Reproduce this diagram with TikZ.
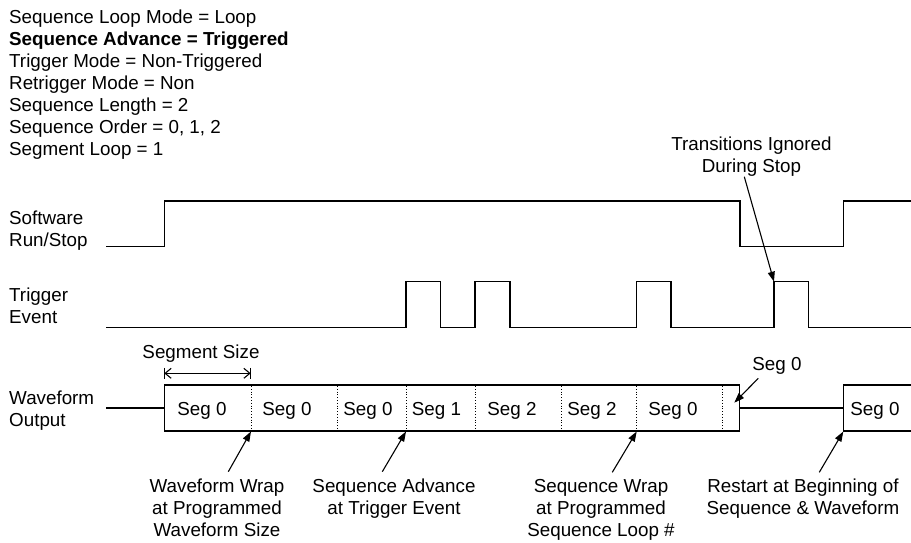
\documentclass[tikz,border=0pt]{standalone}
\usepackage{fontspec}
\setmainfont{Liberation Sans}
\usetikzlibrary{arrows.meta}
\begin{document}
\begin{tikzpicture}[x=1pt,y=-1pt,
  every node/.style={inner sep=0pt, font=\fontsize{18.8}{22}\selectfont},
  txt/.style={anchor=base west},
  ctr/.style={anchor=base},
  signal/.style={line width=1.3pt, line join=miter},
  divider/.style={dotted, line width=0.8pt},
  pointer/.style={line width=1.1pt, -{Triangle[length=10pt,width=7pt]}},
  span/.style={line width=1.1pt, {Straight Barb[length=6pt,width=10pt,line width=1.1pt]}-{Straight Barb[length=6pt,width=10pt,line width=1.1pt]}},
  tick/.style={line width=1.1pt},
]
\useasboundingbox (0,0) rectangle (911,542);

% ---- settings block ----
\node[txt] (cfg1) at (9,23)  {Sequence Loop Mode = Loop};
\node[txt,font=\fontsize{18.8}{22}\selectfont\bfseries] (cfg2) at (9,45) {Sequence Advance = Triggered};
\node[txt] (cfg3) at (9,67)  {Trigger Mode = Non-Triggered};
\node[txt] (cfg4) at (9,89)  {Retrigger Mode = Non};
\node[txt] (cfg5) at (9,111) {Sequence Length = 2};
\node[txt] (cfg6) at (9,133) {Sequence Order = 0, 1, 2};
\node[txt] (cfg7) at (9,155) {Segment Loop = 1};

% ---- row labels ----
\node[txt] (swA) at (9,224.5) {Software};
\node[txt] (swB) at (9,246)   {Run/Stop};
\node[txt] (trA) at (9,301.5) {Trigger};
\node[txt] (trB) at (9,323)   {Event};
\node[txt] (wfA) at (9,404.5) {Waveform};
\node[txt] (wfB) at (9,426)   {Output};

% ---- software run/stop ----
\draw[signal] (106,246.7) -- (164.3,246.7) -- (164.3,201) -- (740,201)
  -- (740,246.7) -- (843.3,246.7) -- (843.3,201) -- (911,201);

% ---- trigger events ----
\draw[signal] (106,327.3)
  -- (406,327.3) -- (406,281.7) -- (440.5,281.7) -- (440.5,327.3)
  -- (475,327.3) -- (475,281.7) -- (510,281.7) -- (510,327.3)
  -- (636.7,327.3) -- (636.7,281.7) -- (671,281.7) -- (671,327.3)
  -- (774,327.3) -- (774,281.7) -- (808.5,281.7) -- (808.5,327.3)
  -- (911,327.3);
\coordinate (ignTip) at (774,281.7);

% ---- waveform output ----
\draw[signal] (106,408) -- (164.3,408);
\draw[signal] (164.3,385) rectangle (739.3,431);
\draw[signal] (739.3,408) -- (843.3,408);
\draw[signal] (911,385) -- (843.3,385) -- (843.3,431) -- (911,431);
\foreach \xd/\nm in {251/d1, 337.3/d2, 406/d3, 475/d4, 561.7/d5, 636.7/d6, 722.7/d7}{
  \draw[divider] (\xd,386) -- (\xd,430);
  \coordinate (\nm) at (\xd,431.5);
}
\coordinate (restartTip) at (843.3,431.5);

\node[ctr] (s1) at (202,415)   {Seg 0};
\node[ctr] (s2) at (287,415)   {Seg 0};
\node[ctr] (s3) at (368,415)   {Seg 0};
\node[ctr] (s4) at (436.5,415) {Seg 1};
\node[ctr] (s5) at (512,415)   {Seg 2};
\node[ctr] (s6) at (592,415)   {Seg 2};
\node[ctr] (s7) at (673,415)   {Seg 0};
\node[ctr] (s8) at (875,415)   {Seg 0};

% ---- segment size dimension ----
\node[ctr] (segsize) at (201,358) {Segment Size};
\coordinate (ssL) at (164.3,373.3);
\coordinate (ssR) at (250.7,373.3);
\draw[tick] (164.3,367.8) -- (164.3,378.8);
\draw[tick] (250.7,367.8) -- (250.7,378.8);
\draw[span] (ssL) -- (ssR);

% ---- short final segment ----
\node[ctr] (segTail) at (777,370) {Seg 0};
\coordinate (segTailFrom) at (758.3,378.3);
\coordinate (segTailTip) at (734.3,402.7);
\draw[pointer] (segTailFrom) -- (segTailTip);

% ---- transitions ignored ----
\node[ctr] (ignA) at (751.5,150) {Transitions Ignored};
\node[ctr] (ignB) at (751.5,172) {During Stop};
\coordinate (ignFrom) at (744.3,176.7);
\draw[pointer] (ignFrom) -- (ignTip);

% ---- annotations below ----
\node[ctr] (wwA) at (217,492)   {Waveform Wrap};
\node[ctr] (wwB) at (217,514)   {at Programmed};
\node[ctr] (wwC) at (217,536)   {Waveform Size};
\coordinate (wwFrom) at (228.3,471.7);
\draw[pointer] (wwFrom) -- (d1);

\node[ctr] (saA) at (394,492)   {Sequence Advance};
\node[ctr] (saB) at (394,514)   {at Trigger Event};
\coordinate (saFrom) at (382.3,471.7);
\draw[pointer] (saFrom) -- (d3);

\node[ctr] (swrA) at (601,492)  {Sequence Wrap};
\node[ctr] (swrB) at (601,514)  {at Programmed};
\node[ctr] (swrC) at (601,536)  {Sequence Loop \#};
\coordinate (swrFrom) at (612.3,472.3);
\draw[pointer] (swrFrom) -- (d6);

\node[ctr] (rsA) at (803,492)   {Restart at Beginning of};
\node[ctr] (rsB) at (803,514)   {Sequence \& Waveform};
\coordinate (rsFrom) at (819.3,472.3);
\draw[pointer] (rsFrom) -- (restartTip);
\end{tikzpicture}
\end{document}
